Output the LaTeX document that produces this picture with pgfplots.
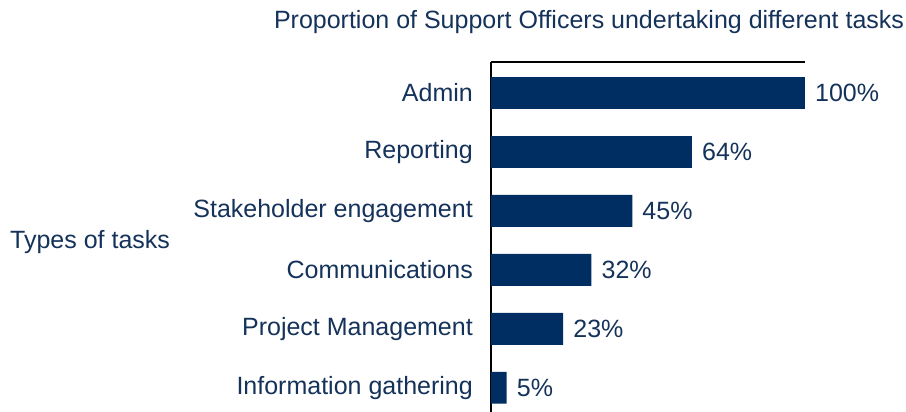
\documentclass[border=0pt]{standalone}
\usepackage{pgfplots}
\pgfplotsset{compat=1.18}
\usepackage{fontspec}
\setmainfont{Liberation Sans}
\definecolor{barblue}{RGB}{0,45,98}
\definecolor{txtblue}{RGB}{20,50,90}
\begin{document}
\begin{tikzpicture}
\useasboundingbox (-491pt,0pt) rectangle (415pt,412pt);
\begin{axis}[
  at={(0pt,0pt)}, anchor=south west,
  scale only axis,
  width=314pt, height=350pt,
  xbar, bar width=0.54,
  xmin=0, xmax=100,
  ymin=-0.41, ymax=5.525,
  axis x line*=top, axis y line*=left,
  axis line style={line width=1.3pt, black},
  xtick=\empty,
  ytick={0,1,2,3,4,5},
  yticklabels={Information gathering,Project Management,Communications,Stakeholder engagement,Reporting,Admin},
  major tick length=0pt,
  /pgf/number format/assume math mode=true,
  yticklabel style={font=\fontsize{25}{30}\selectfont, text=txtblue, inner sep=0pt, xshift=-18pt},
  point meta=x,
  nodes near coords={\pgfmathprintnumber[assume math mode=true]{\pgfplotspointmeta}\%},
  nodes near coords align={horizontal},
  every node near coord/.append style={font=\fontsize{25}{30}\selectfont, text=txtblue, anchor=west, inner sep=0pt, xshift=10pt},
  clip=false,
]
\addplot[fill=barblue, draw=none] coordinates {(5,0) (23,1) (32,2) (45,3) (64,4) (100,5)};
\end{axis}
\node[font=\fontsize{25}{30}\selectfont, text=txtblue] at (98pt,390pt) {Proportion of Support Officers undertaking different tasks};
\node[font=\fontsize{25}{30}\selectfont, text=txtblue, anchor=west, inner sep=0pt] at (-481pt,170pt) {Types of tasks};
\end{tikzpicture}
\end{document}
